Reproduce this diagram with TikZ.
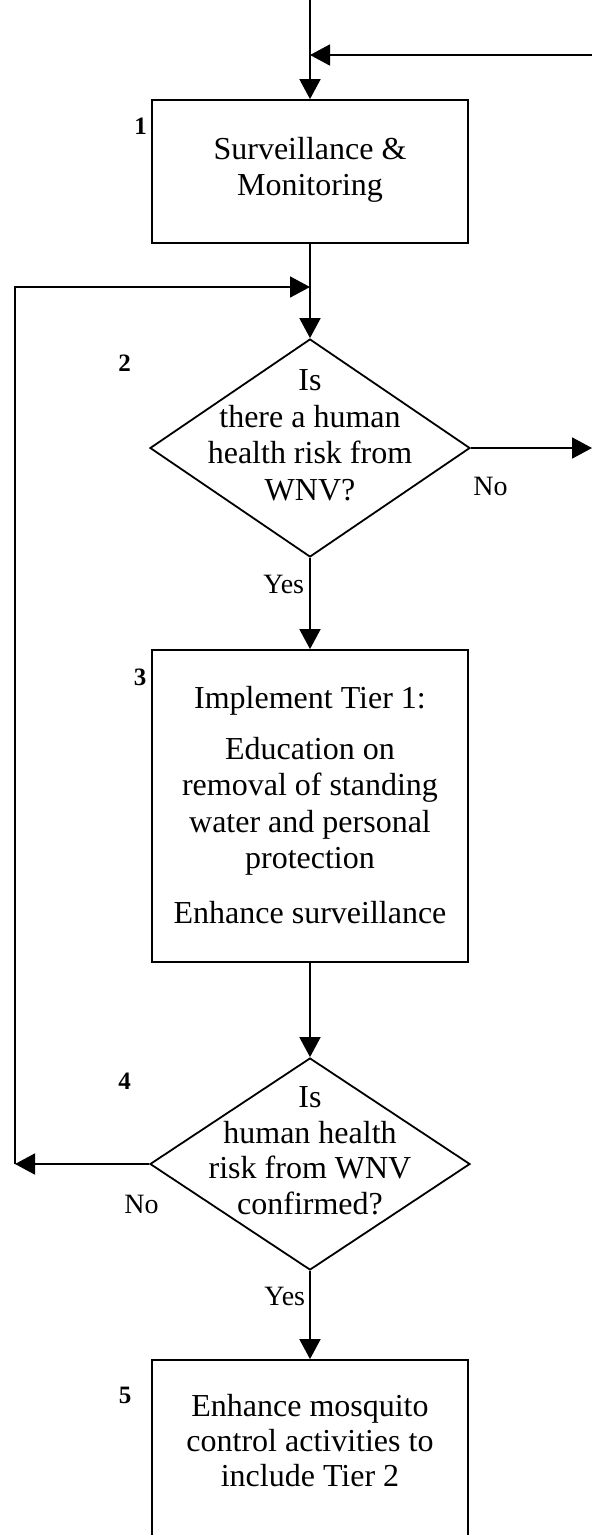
\documentclass[tikz,border=0pt]{standalone}
\usepackage{fontspec}
\setmainfont{Liberation Serif}
\usetikzlibrary{shapes.geometric,arrows.meta}
\begin{document}
\begin{tikzpicture}[x=1pt,y=-1pt,
  line width=1.8pt,
  stepbox/.style={draw, rectangle, minimum width=316pt, inner sep=0pt},
  decision/.style={draw, diamond, minimum width=320pt, inner sep=0pt},
  txt/.style={font=\fontsize{32}{36.5}\selectfont, align=center, inner sep=0pt, anchor=north},
  lbl/.style={font=\fontsize{28}{30}\selectfont, inner sep=0pt},
  num/.style={font=\fontsize{25}{27}\selectfont\bfseries, inner sep=0pt},
  arr/.style={-{Triangle[length=20pt,width=21pt]}}
]
\useasboundingbox (0,0) rectangle (592,1535);
\clip (0,0) rectangle (592,1535);

% boxes and decisions
\node[stepbox, minimum height=143pt] (b1) at (310,171.5) {};
\node[txt] (t1) at (310,136) {Surveillance \&\\Monitoring};

\node[decision, minimum height=218pt] (d2) at (310,448) {};
\node[txt] (t2) at (310,369) {Is\\there a human\\health risk from\\WNV?};

\node[stepbox, minimum height=312pt] (b3) at (310,806) {};
\node[txt] (t3) at (310,685) {Implement Tier 1:\\[14.5pt]Education on\\removal of standing\\water and personal\\protection\\[18pt]Enhance surveillance};

\node[decision, minimum height=212pt] (d4) at (310,1164) {};
\node[txt, font=\fontsize{32}{35.5}\selectfont] (t4) at (310,1086) {Is\\human health\\risk from WNV\\confirmed?};

\node[stepbox, minimum height=200pt] (b5) at (310,1460) {};
\node[txt, font=\fontsize{32}{35}\selectfont] (t5) at (310,1393) {Enhance mosquito\\control activities to\\include Tier 2};

% step numbers
\node[num] (n1) at (140.5,126.5) {1};
\node[num] (n2) at (124.5,363.5) {2};
\node[num] (n3) at (140,677) {3};
\node[num] (n4) at (124.5,1081) {4};
\node[num] (n5) at (125,1395) {5};

% branch labels
\node[lbl] (no1) at (490.5,486) {No};
\node[lbl, anchor=east] (yes1) at (305,584) {Yes};
\node[lbl] (no2) at (141.5,1204) {No};
\node[lbl, anchor=east] (yes2) at (306,1296) {Yes};

% free ends and junctions
\coordinate (top) at (310,0);
\coordinate (rin) at (592,55);
\coordinate (j1) at (310,55);
\coordinate (rout) at (592,448);
\coordinate (lb) at (15,1164);
\coordinate (lt) at (15,287);
\coordinate (j2) at (310,287);

% connectors
\draw[arr] (top) -- (b1.north);
\draw[arr] (rin) -- (j1);
\draw[arr] (b1.south) -- (d2.north);
\draw[arr] (lb) -- (lt) -- (j2);
\draw[arr] (d2.east) -- (rout);
\draw[arr] (d2.south) -- (b3.north);
\draw[arr] (b3.south) -- (d4.north);
\draw[arr] (d4.west) -- (lb);
\draw[arr] (d4.south) -- (b5.north);
\end{tikzpicture}
\end{document}
